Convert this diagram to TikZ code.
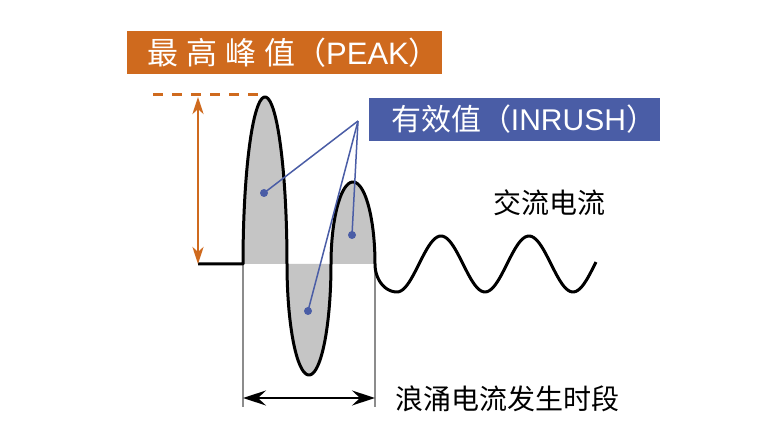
\documentclass[tikz,border=0pt]{standalone}
\usepackage{fontspec}
\setmainfont{Liberation Sans}
\newfontfamily\cjk{Noto Sans CJK SC}
\usetikzlibrary{arrows.meta}
\definecolor{peakorange}{RGB}{207,106,30}
\definecolor{rmsblue}{RGB}{74,93,166}
\definecolor{lobegray}{RGB}{197,197,197}
\definecolor{spangray}{RGB}{140,140,140}

\begin{document}
\begin{tikzpicture}[x=1pt, y=-1pt,
  wave/.style={line width=3pt, line join=round},
  peakarrow/.style={peakorange, line width=2.6pt, {Stealth[length=17pt,width=11pt,inset=5pt]}-{Stealth[length=17pt,width=11pt,inset=5pt]}},
  peakdash/.style={peakorange, line width=3pt, dash pattern=on 10pt off 9pt},
  spanline/.style={spangray, line width=1.2pt},
  spanarrow/.style={line width=2pt, {Stealth[length=23pt,width=15pt,inset=8pt]}-{Stealth[length=23pt,width=15pt,inset=8pt]}},
  pointer/.style={rmsblue, line width=1.5pt},
  dot/.style={circle, fill=rmsblue, inner sep=0pt, minimum size=8pt},
  banner/.style={inner sep=0pt, minimum height=43pt, text=white, font=\fontsize{31}{36}\selectfont},
  lbl/.style={inner sep=0pt, font=\cjk\fontsize{28}{32}\selectfont}]
\useasboundingbox[fill=white] (0,0) rectangle (764,435);
\coordinate (base) at (198,264);
\coordinate (t0) at (243,264);
\coordinate (t1) at (375,264);
\coordinate (t0b) at (243,407);
\coordinate (t1b) at (375,407);
\coordinate (sa) at (243,398);
\coordinate (sb) at (375,398);
\coordinate (pk) at (198,97);
\coordinate (dl) at (153,95);
\coordinate (dr) at (262,95);
\coordinate (hub) at (358,121);
\fill[lobegray] plot[domain=180:0, samples=60] ({265+22*cos(\x)}, {264-167*sin(\x)}) -- cycle;
\fill[lobegray] plot[domain=180:0, samples=60] ({309+22*cos(\x)}, {264+111*sin(\x)}) -- cycle;
\fill[lobegray] plot[domain=180:0, samples=60] ({353+22*cos(\x)}, {264-82*sin(\x)}) -- cycle;
\draw[spanline] (t0) -- (t0b);
\draw[spanline] (t1) -- (t1b);
\draw[spanarrow] (sa) -- (sb);
\draw[wave] (base) -- (t0)
  -- plot[domain=180:0, samples=60] ({265+22*cos(\x)}, {264-167*sin(\x)})
  -- plot[domain=180:0, samples=60] ({309+22*cos(\x)}, {264+111*sin(\x)})
  -- plot[domain=180:0, samples=60] ({353+22*cos(\x)}, {264-82*sin(\x)})
  -- plot[domain=180:90, samples=20] ({397+22*cos(\x)}, {264+28*sin(\x)})
  -- plot[domain=0:199, samples=100] ({397+\x}, {264+28*cos(\x/88*360)});
\draw[peakdash] (dl) -- (dr);
\draw[peakarrow] (pk) -- (base);
\node[dot] (d1) at (264,193) {};
\node[dot] (d2) at (352,235) {};
\node[dot] (d3) at (308,311) {};
\draw[pointer] (hub) -- (d1.center);
\draw[pointer] (hub) -- (d2.center);
\draw[pointer] (hub) -- (d3.center);
\node[banner, fill=peakorange, minimum width=315pt] (peak) at (284.5,52.5)
  {\kern18pt{\cjk 最\kern8pt 高\kern8pt 峰\kern8pt 值（}PEAK{\cjk ）}};
\node[banner, fill=rmsblue, minimum width=291pt, font=\fontsize{30}{36}\selectfont] (rms) at (514.5,119.5)
  {\kern18pt{\cjk 有效值（}INRUSH{\cjk ）}};
\node[lbl] (ac) at (549,203) {交流电流};
\node[lbl] (surge) at (507,399) {浪涌电流发生时段};
\end{tikzpicture}
\end{document}
